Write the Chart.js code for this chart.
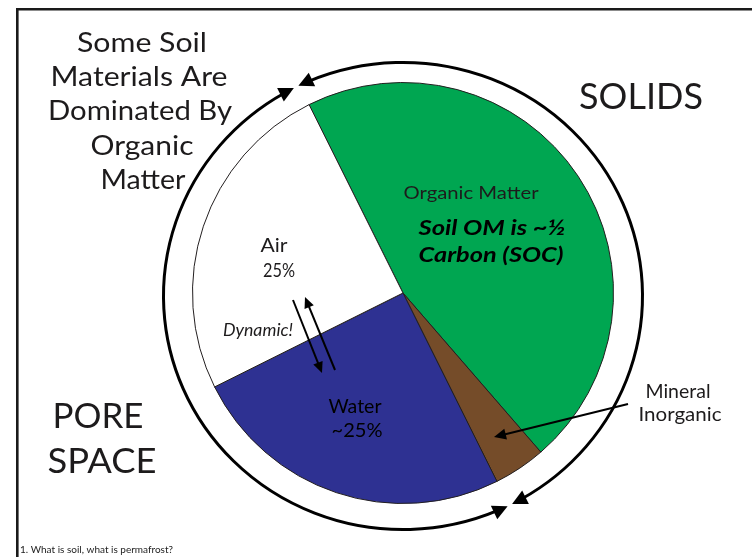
<!DOCTYPE html>
<html>
<head>
<meta charset="utf-8">
<script src="https://cdn.jsdelivr.net/npm/chart.js@4/dist/chart.umd.min.js"></script>
<style>
  html, body { margin: 0; padding: 0; background: #fff; }
  #wrap { width: 752px; height: 557px; position: relative; }
</style>
</head>
<body>
<div id="wrap"><canvas id="soil-chart" width="752" height="557"></canvas></div>
<script>
// soil composition (percent of volume)
const sliceLabels = ["Organic Matter", "Mineral Inorganic", "Water", "Air"];
const sliceValues = [46, 4, 25, 25];
const sliceColors = ["#00a651", "#754c29", "#2e3192", "#ffffff"];
const startAngle = -26.5; // degrees clockwise from 12 o'clock

const FONT = "Lato, 'Open Sans', sans-serif";
const INK = "#1d1b1c";

// [text, centre x, centre y, font px, width in the picture, extra]
const notes = [
  ["Some Soil", 142, 43, 27, 130],
  ["Materials Are", 139, 77, 27, 177],
  ["Dominated By", 140, 111, 27, 184],
  ["Organic", 142, 146, 27, 103],
  ["Matter", 143, 180, 27, 85],
  ["SOLIDS", 641, 97, 36, 124],
  ["PORE", 98, 417, 34, 91],
  ["SPACE", 102, 462, 34, 109],
  ["Organic Matter", 471, 193, 18, 135],
  ["Soil OM is ~½", 492, 228, 21, 147, { style: "italic", weight: 700, color: "#000" }],
  ["Carbon (SOC)", 491, 255, 21, 145, { style: "italic", weight: 700, color: "#000" }],
  ["Air", 274, 246, 19, 27],
  ["25%", 279, 271, 19, 32],
  ["Dynamic!", 258, 331, 17, 70, { style: "italic" }],
  ["Water", 355, 407, 20, 53, { color: "#000" }],
  ["~25%", 357, 431, 20, 51, { color: "#000" }],
  ["Mineral", 678, 392, 19, 65],
  ["Inorganic", 680, 415, 19, 83]
];

function arrowHead(ctx, tx, ty, dx, dy, len, half) {
  const n = Math.hypot(dx, dy);
  dx /= n; dy /= n;
  const bx = tx - dx * len, by = ty - dy * len;
  ctx.beginPath();
  ctx.moveTo(tx, ty);
  ctx.lineTo(bx - dy * half, by + dx * half);
  ctx.lineTo(bx + dy * half, by - dx * half);
  ctx.closePath();
  ctx.fill();
}

function arrowLine(ctx, x0, y0, x1, y1, len, half) {
  const dx = x1 - x0, dy = y1 - y0, n = Math.hypot(dx, dy);
  ctx.beginPath();
  ctx.moveTo(x0, y0);
  ctx.lineTo(x1 - dx / n * len * 0.8, y1 - dy / n * len * 0.8);
  ctx.stroke();
  arrowHead(ctx, x1, y1, dx, dy, len, half);
}

// ellipse arc from a0 to a1 (degrees, canvas angles) with heads at both ends
function ringArrow(ctx, cx, cy, rx, ry, a0, a1) {
  const rad = Math.PI / 180;
  const len = 15, half = 7.5;
  const back = (len * 0.7) / ((rx + ry) / 2);
  const t0 = a0 * rad, t1 = a1 * rad;
  ctx.beginPath();
  ctx.ellipse(cx, cy, rx, ry, 0, t0 + back, t1 - back, false);
  ctx.stroke();
  const p = t => [cx + rx * Math.cos(t), cy + ry * Math.sin(t)];
  const tan = t => [-rx * Math.sin(t), ry * Math.cos(t)];
  let [x, y] = p(t0), [ux, uy] = tan(t0);
  arrowHead(ctx, x, y, -ux, -uy, len, half);
  [x, y] = p(t1); [ux, uy] = tan(t1);
  arrowHead(ctx, x, y, ux, uy, len, half);
}

// the picture uses a wider face than Lato, so stretch each line to its width
function text(ctx, str, x, y, size, width, opts = {}) {
  ctx.save();
  ctx.font = `${opts.style || "normal"} ${opts.weight || 400} ${size}px ${FONT}`;
  ctx.fillStyle = opts.color || INK;
  ctx.textAlign = "center";
  ctx.textBaseline = "middle";
  const w = ctx.measureText(str).width;
  const sx = width ? Math.min(1.25, width / w) : 1;
  ctx.translate(x, y);
  ctx.scale(sx, 1);
  ctx.fillText(str, 0, 0);
  ctx.restore();
}

const notesPlugin = {
  id: "soilNotes",
  beforeDraw(chart) {
    const ctx = chart.ctx;
    ctx.save();
    ctx.fillStyle = "#fff";
    ctx.fillRect(0, 0, chart.width, chart.height);
    ctx.strokeStyle = "#1a1a1a";
    ctx.lineWidth = 2.6;
    ctx.beginPath();
    ctx.moveTo(17.3, chart.height);
    ctx.lineTo(17.3, 9.3);
    ctx.lineTo(chart.width, 9.3);
    ctx.stroke();
    ctx.restore();
  },
  afterDraw(chart) {
    const ctx = chart.ctx;
    const arc = chart.getDatasetMeta(0).data[0];
    const cx = arc.x, cy = arc.y, r = arc.outerRadius;
    const total = sliceValues.reduce((a, b) => a + b, 0);
    const first = startAngle - 90;
    const mineralEnd = first + (sliceValues[0] + sliceValues[1]) / total * 360;
    const gap = 0.6;

    ctx.save();
    ctx.strokeStyle = "#000";
    ctx.fillStyle = "#000";
    ctx.lineWidth = 3;
    const rx = r * 239.5 / 210.5, ry = r * 233.6 / 210.5, ecy = cy + 3;
    ringArrow(ctx, cx, ecy, rx, ry, first + gap, mineralEnd - gap);
    ringArrow(ctx, cx, ecy, rx, ry, mineralEnd + gap, first + 360 - gap);

    // Dynamic! arrows between air and water
    ctx.lineWidth = 2;
    arrowLine(ctx, 293, 300, 322, 373, 11, 5);
    arrowLine(ctx, 335, 370, 305, 297, 11, 5);
    // pointer to mineral slice
    arrowLine(ctx, 628, 404, 494, 437, 12, 5.5);
    ctx.restore();

    notes.forEach(([s, x, y, size, w, opts]) => text(ctx, s, x, y, size, w, opts));
    ctx.save();
    ctx.font = `400 10px ${FONT}`;
    ctx.fillStyle = "#222";
    ctx.textBaseline = "middle";
    ctx.fillText("1. What is soil, what is permafrost?", 20, 550);
    ctx.restore();
  }
};

new Chart(document.getElementById("soil-chart"), {
  type: "pie",
  data: {
    labels: sliceLabels,
    datasets: [{
      data: sliceValues,
      backgroundColor: sliceColors,
      borderColor: "#231f20",
      borderWidth: 1
    }]
  },
  options: {
    responsive: false,
    animation: false,
    rotation: startAngle,
    layout: { padding: { top: 82, bottom: 53, left: 192, right: 138 } },
    plugins: {
      legend: { display: false },
      tooltip: { enabled: false }
    }
  },
  plugins: [notesPlugin]
});
</script>
</body>
</html>
